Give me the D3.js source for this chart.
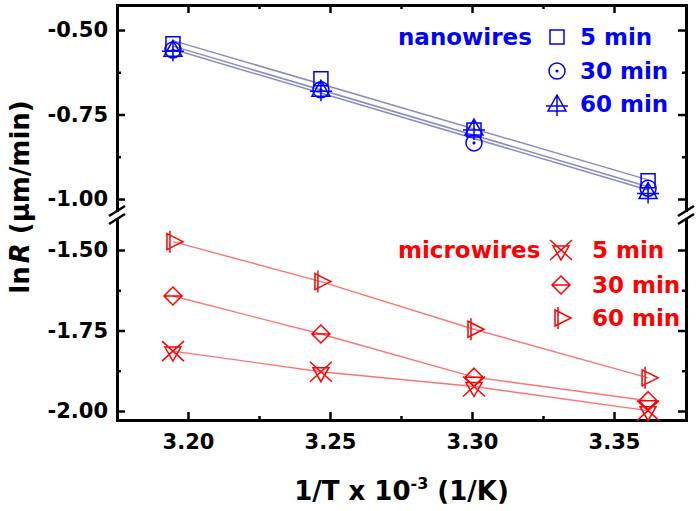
<!DOCTYPE html>
<html><head><meta charset="utf-8">
<script src="https://cdn.jsdelivr.net/npm/d3@7"></script>
<style>body{margin:0;background:#fff}</style>
</head><body>
<svg id="c" width="700" height="511"></svg>
<script>
// ---- data ----
const invT = [3.1947, 3.2468, 3.3007, 3.3620];
const nano5 = [-0.541, -0.644, -0.796, -0.946];
const nano30 = [-0.559, -0.677, -0.834, -0.968];
const nano60 = [-0.557, -0.675, -0.790, -0.978];
const micro5 = [-1.814, -1.878, -1.924, -1.999];
const micro30 = [-1.643, -1.761, -1.895, -1.968];
const micro60 = [-1.474, -1.598, -1.746, -1.897];
const xTicks = [3.20, 3.25, 3.30, 3.35];
const xMinor = [3.225, 3.275, 3.325];
const yTopTicks = [-0.50, -0.75, -1.00];
const yTopMinor = [-0.625, -0.875];
const yBotTicks = [-1.50, -1.75, -2.00];
const yBotMinor = [-1.625, -1.875];
const seriesLabels = ["5 min", "30 min", "60 min"];
const groupLabels = ["nanowires", "microwires"];

const BLUE = "#0000ff", RED = "#ff0000";
const FONT = "DejaVu Sans";
const svg = d3.select("#c");
svg.append("rect").attr("width",700).attr("height",511).attr("fill","#fff");

const L = 117, R = 686, T = 5, B = 420;
const x = d3.scaleLinear().domain([3.175, 3.37535]).range([L, R]);
const yT = d3.scaleLinear().domain([-0.426, -1.0325]).range([T, 210]);
const yB = d3.scaleLinear().domain([-1.4068, -2.028]).range([220, B]);

function style(g, labels) {
  g.attr("font-family", FONT).attr("font-weight", "bold").attr("font-size", 21);
  g.select(".domain").attr("stroke-width", 3).attr("stroke-linecap", "square").attr("stroke", "#000");
  g.selectAll(".tick line").attr("stroke-width", 2.5).attr("stroke", "#000");
  g.selectAll(".tick text").attr("fill", "#000");
  if (!labels) g.selectAll(".tick text").remove();
}
function minor(g) {
  g.select(".domain").remove();
  g.selectAll(".tick line").attr("stroke-width", 2.5).attr("stroke", "#000");
  g.selectAll(".tick text").remove();
}
const fmt = d => d.toFixed(2);

// bottom / top axes
svg.append("g").attr("transform", `translate(0,${B})`)
  .call(d3.axisBottom(x).tickValues(xTicks).tickSizeInner(-8).tickSizeOuter(0).tickPadding(14).tickFormat(fmt))
  .call(g => style(g, true));
svg.append("g").attr("transform", `translate(0,${B})`)
  .call(d3.axisBottom(x).tickValues(xMinor).tickSizeInner(-4).tickSizeOuter(0)).call(minor);
svg.append("g").attr("transform", `translate(0,${T})`)
  .call(d3.axisTop(x).tickValues(xTicks).tickSizeInner(-8).tickSizeOuter(0))
  .call(g => style(g, false));
svg.append("g").attr("transform", `translate(0,${T})`)
  .call(d3.axisTop(x).tickValues(xMinor).tickSizeInner(-4).tickSizeOuter(0)).call(minor);

// left / right axes, two panels
[[yT, yTopTicks, yTopMinor], [yB, yBotTicks, yBotMinor]].forEach(([ys, tk, mn]) => {
  svg.append("g").attr("transform", `translate(${L},0)`)
    .call(d3.axisLeft(ys).tickValues(tk).tickSizeInner(-8).tickSizeOuter(0).tickPadding(9).tickFormat(fmt))
    .call(g => style(g, true));
  svg.append("g").attr("transform", `translate(${L},0)`)
    .call(d3.axisLeft(ys).tickValues(mn).tickSizeInner(-4).tickSizeOuter(0)).call(minor);
  svg.append("g").attr("transform", `translate(${R},0)`)
    .call(d3.axisRight(ys).tickValues(tk).tickSizeInner(-8).tickSizeOuter(0))
    .call(g => style(g, false));
  svg.append("g").attr("transform", `translate(${R},0)`)
    .call(d3.axisRight(ys).tickValues(mn).tickSizeInner(-4).tickSizeOuter(0)).call(minor);
});

// axis break marks
[L, R].forEach(ax => {
  [211, 219].forEach(yb => {
    svg.append("line").attr("x1", ax - 8).attr("y1", yb + 5).attr("x2", ax + 8).attr("y2", yb - 5)
      .attr("stroke", "#000").attr("stroke-width", 2.5);
  });
});

// markers (shape paths relative to the point)
const shapes = {
  square: "M-7,-7H7V7H-7Z",
  circle: "M8,0A8,8 0 1,1 -8,0A8,8 0 1,1 8,0Z M0.8,0A0.8,0.8 0 1,1 -0.8,0A0.8,0.8 0 1,1 0.8,0Z",
  triUp: "M0,-9L9,7H-9Z M-11,2H11 M0,-9V12",
  xTri: "M-11,-10L11,10 M-11,10L11,-10 M-8,-4H8L0,10Z",
  diamond: "M0,-9L9,0L0,9L-9,0Z M-9,0H9",
  triRight: "M-6,-8L10,0L-6,8Z M-3,-11V11"
};

function fit(xs, ys) {
  const mx = d3.mean(xs), my = d3.mean(ys);
  const b = d3.sum(xs, (v, i) => (v - mx) * (ys[i] - my)) / d3.sum(xs, v => (v - mx) ** 2);
  return v => my + b * (v - mx);
}

const nano = [[nano5, "square"], [nano30, "circle"], [nano60, "triUp"]];
const micro = [[micro5, "xTri"], [micro30, "diamond"], [micro60, "triRight"]];

// nanowire linear fits
nano.forEach(([ys]) => {
  const f = fit(invT, ys);
  const ends = [invT[0], invT[invT.length - 1]];
  svg.append("path")
    .attr("d", d3.line().x(d => x(d)).y(d => yT(f(d)))(ends))
    .attr("fill", "none").attr("stroke", "#3a3aa0").attr("stroke-opacity", 0.6).attr("stroke-width", 1.5);
});
// microwire connecting lines
micro.forEach(([ys]) => {
  svg.append("path")
    .attr("d", d3.line().x((d, i) => x(invT[i])).y(d => yB(d))(ys))
    .attr("fill", "none").attr("stroke", RED).attr("stroke-opacity", 0.55).attr("stroke-width", 1.4);
});

function drawMarkers(ys, shape, ysc, color) {
  svg.append("g").selectAll("path").data(ys).join("path")
    .attr("transform", (d, i) => `translate(${x(invT[i])},${ysc(d)})`)
    .attr("d", shapes[shape]).attr("fill", "none").attr("stroke", color).attr("stroke-width", 1.5);
}
nano.forEach(([ys, s]) => drawMarkers(ys, s, yT, BLUE));
micro.forEach(([ys, s]) => drawMarkers(ys, s, yB, RED));

// legends
function legend(title, tx, ty, sx, symYs, lx, items, color) {
  const g = svg.append("g").attr("font-family", FONT).attr("font-weight", "bold")
    .attr("font-size", 23).attr("fill", color);
  g.append("text").attr("x", tx).attr("y", ty).text(title);
  items.forEach(([ys, s], i) => {
    g.append("path").attr("transform", `translate(${sx},${symYs[i]})`).attr("d", shapes[s])
      .attr("fill", "none").attr("stroke", color).attr("stroke-width", 1.5);
    g.append("text").attr("x", lx).attr("y", symYs[i] + 7.5).text(seriesLabels[i]);
  });
}
legend(groupLabels[0], 398, 45, 557, [37, 71, 104], 580, nano, BLUE);
legend(groupLabels[1], 398, 258, 561, [250, 285, 318], 592, micro, RED);

// axis titles
const xt = svg.append("text").attr("x", (L + R) / 2).attr("y", 500).attr("text-anchor", "middle")
  .attr("font-family", FONT).attr("font-weight", "bold").attr("font-size", 26).attr("fill", "#000");
xt.append("tspan").text("1/T x 10");
xt.append("tspan").attr("font-size", 16).attr("dy", -11).text("-3");
xt.append("tspan").attr("dy", 11).text(" (1/K)");

const yt = svg.append("text").attr("transform", "translate(29,197) rotate(-90)").attr("text-anchor", "middle")
  .attr("font-family", FONT).attr("font-weight", "bold").attr("font-size", 26).attr("fill", "#000");
yt.append("tspan").text("ln");
yt.append("tspan").attr("font-style", "italic").attr("dx", 3).text("R");
yt.append("tspan").text(" (μm/min)");
</script>
</body></html>
